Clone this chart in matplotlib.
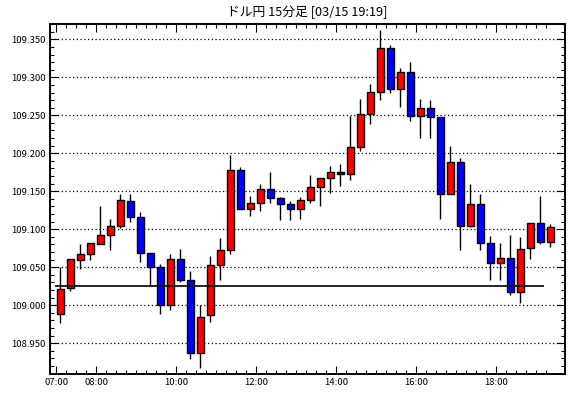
"""
ドル円 15分足 ローソク足チャート
"""
import numpy as np
import matplotlib.pyplot as plt
from matplotlib.ticker import MultipleLocator, FixedLocator

plt.rcParams['font.family'] = ['Noto Sans CJK JP', 'DejaVu Sans']

title = 'ドル円 15分足 [03/15 19:19]'

opens = [108.989, 109.022, 109.060, 109.067, 109.081, 109.092, 109.104, 109.137, 109.116, 109.069,
         109.050, 109.000, 109.061, 109.033, 108.937, 108.987, 109.053, 109.072, 109.178, 109.127,
         109.135, 109.153, 109.141, 109.133, 109.126, 109.138, 109.156, 109.167, 109.175, 109.173,
         109.208, 109.252, 109.281, 109.338, 109.284, 109.307, 109.249, 109.259, 109.248, 109.147,
         109.189, 109.104, 109.133, 109.082, 109.055, 109.062, 109.018, 109.075, 109.108, 109.083]
highs = [109.050, 109.061, 109.081, 109.082, 109.131, 109.113, 109.146, 109.146, 109.123, 109.069,
         109.054, 109.068, 109.074, 109.045, 109.000, 109.065, 109.089, 109.198, 109.182, 109.144,
         109.160, 109.175, 109.143, 109.137, 109.142, 109.172, 109.167, 109.183, 109.186, 109.249,
         109.271, 109.291, 109.362, 109.342, 109.312, 109.320, 109.271, 109.270, 109.248, 109.209,
         109.194, 109.160, 109.147, 109.091, 109.082, 109.092, 109.090, 109.108, 109.144, 109.107]
lows = [108.977, 109.019, 109.048, 109.060, 109.080, 109.073, 109.102, 109.109, 109.057, 109.025,
        108.989, 108.994, 109.030, 108.929, 108.917, 108.978, 109.033, 109.068, 109.127, 109.117,
        109.124, 109.134, 109.112, 109.112, 109.114, 109.134, 109.130, 109.148, 109.157, 109.165,
        109.203, 109.239, 109.270, 109.279, 109.261, 109.243, 109.220, 109.220, 109.114, 109.147,
        109.072, 109.103, 109.073, 109.033, 109.033, 109.014, 109.003, 109.061, 109.081, 109.077]
closes = [109.021, 109.061, 109.067, 109.082, 109.092, 109.104, 109.138, 109.116, 109.069, 109.050,
          109.000, 109.061, 109.033, 108.937, 108.985, 109.053, 109.073, 109.178, 109.127, 109.135,
          109.153, 109.141, 109.133, 109.126, 109.138, 109.156, 109.167, 109.175, 109.173, 109.208,
          109.252, 109.281, 109.338, 109.284, 109.307, 109.249, 109.259, 109.248, 109.147, 109.189,
          109.104, 109.133, 109.082, 109.055, 109.062, 109.018, 109.074, 109.108, 109.083, 109.103]

ref_level = 109.025
hour_labels = ['07:00', '08:00', '10:00', '12:00', '14:00', '16:00', '18:00']
hour_index = [0, 4, 12, 20, 28, 36, 44]


def draw_candles(ax, o, h, l, c):
    """ローソク足を描く"""
    x = np.arange(len(o))
    o = np.array(o)
    c = np.array(c)
    colors = np.where(c >= o, '#ff0000', '#0000ff')
    ax.vlines(x, l, h, colors='black', linewidth=1.0, zorder=2)
    bottom = np.minimum(o, c)
    height = np.maximum(np.abs(c - o), 0.0008)
    ax.bar(x, height, bottom=bottom, width=0.65, color=colors,
           edgecolor='black', linewidth=1.0, zorder=3)
    return x


def main():
    fig = plt.figure(figsize=(5.7, 3.98), dpi=100)
    ax = fig.add_axes([50 / 570, 24 / 398, 515 / 570, 350 / 398])

    x = draw_candles(ax, opens, highs, lows, closes)
    ax.hlines(ref_level, -0.5, 48.4, colors='black', linewidth=1.2, zorder=4)

    ax.set_xlim(-1.03, 50.47)
    ax.set_ylim(108.9094, 109.3702)

    yt = np.arange(108.95, 109.351, 0.05)
    ax.yaxis.set_major_locator(FixedLocator(yt))
    ax.yaxis.set_minor_locator(MultipleLocator(0.01))
    ax.set_yticklabels(['%.3f' % v for v in yt])
    for v in yt:
        ax.axhline(v, color='black', linestyle=(0, (1, 2)), linewidth=0.9, zorder=1)

    ax.xaxis.set_major_locator(FixedLocator([i - 0.4 for i in hour_index]))
    ax.set_xticklabels(hour_labels)
    ax.xaxis.set_minor_locator(FixedLocator(x - 0.4))

    ax.tick_params(which='both', direction='in', top=True, right=True,
                   labelsize=6.8, width=0.8, pad=3)
    ax.tick_params(which='major', length=6)
    ax.tick_params(which='minor', length=3)
    for s in ax.spines.values():
        s.set_linewidth(1.4)

    fig.text(307 / 570, 1 - 12 / 398, title, ha='center', va='center', fontsize=9.2)
    fig.savefig('out.png', dpi=100, facecolor='white')


if __name__ == '__main__':
    main()
